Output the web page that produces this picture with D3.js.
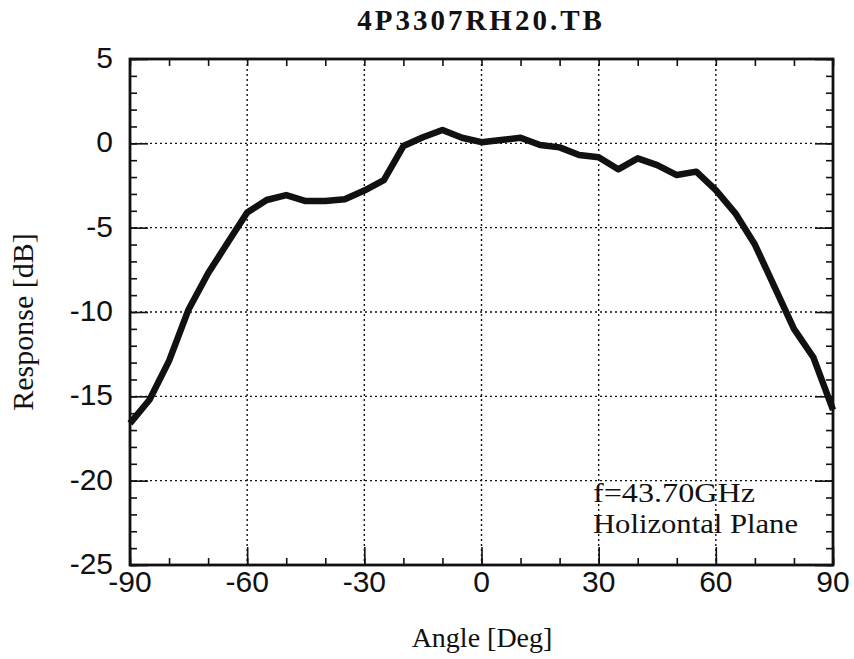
<!DOCTYPE html>
<html lang="en">

<head>
    <meta charset="utf-8">
    <title>4P3307RH20.TB</title>
    <script src="https://d3js.org/d3.v7.min.js"></script>
    <style>
        body {
            margin: 0;
            background: #fff;
        }

        .tick_label {
            font-family: "Liberation Sans", Arial, sans-serif;
            font-size: 30px;
            fill: #111;
        }

        .serif {
            font-family: "Liberation Serif", "Times New Roman", serif;
            fill: #111;
        }

        .grid {
            stroke: #111;
            stroke-width: 1.4;
            stroke-dasharray: 2, 3;
        }
    </style>
</head>

<body>
    <script type="text/javascript">

        //Consts
        const w = 854;
        const h = 659;
        const mLeft = 130, mRight = 833, mTop = 59, mBottom = 565;

        // data - response, every 5 degrees
        const angles = [-90, -85, -80, -75, -70, -65, -60, -55, -50, -45, -40, -35, -30, -25, -20, -15, -10, -5,
            0, 5, 10, 15, 20, 25, 30, 35, 40, 45, 50, 55, 60, 65, 70, 75, 80, 85, 90];
        const response = [-16.6, -15.2, -12.9, -9.85, -7.7, -5.9, -4.1, -3.36, -3.07, -3.42, -3.42, -3.32, -2.8, -2.18, -0.16, 0.36, 0.79, 0.33,
            0.07, 0.2, 0.33, -0.1, -0.24, -0.69, -0.83, -1.54, -0.89, -1.29, -1.88, -1.68, -2.77, -4.15, -6.0, -8.5, -11.0, -12.7, -15.8];

        const xTicks = [-90, -60, -30, 0, 30, 60, 90];
        const yTicks = [5, 0, -5, -10, -15, -20, -25];
        const xMinor = d3.range(-90, 91, 10);
        const yMinor = d3.range(-25, 6, 1);

        const data = angles.map((a, i) => ({ angle: a, db: response[i] }));

        //scales
        const xScale = d3.scaleLinear()
            .domain([-90, 90])
            .range([mLeft, mRight]);

        const yScale = d3.scaleLinear()
            .domain([-25, 5])
            .range([mBottom, mTop]);

        //SVG
        const svg = d3.select("body")
            .append("svg")
            .attr("width", w)
            .attr("height", h);

        //grid lines (dotted)
        svg.selectAll(".vgrid")
            .data(xTicks.slice(1, -1))
            .enter().append("line")
            .attr("class", "grid")
            .attr("x1", d => xScale(d)).attr("x2", d => xScale(d))
            .attr("y1", mTop).attr("y2", mBottom);

        svg.selectAll(".hgrid")
            .data(yTicks.slice(1, -1))
            .enter().append("line")
            .attr("class", "grid")
            .attr("x1", mLeft).attr("x2", mRight)
            .attr("y1", d => yScale(d)).attr("y2", d => yScale(d));

        //axes - ticks on all four sides, pointing inward
        const tickStyle = g => g.call(s => s.select(".domain").remove())
            .call(s => s.selectAll("line").attr("stroke", "#111").attr("stroke-width", 1.6));

        svg.append("g").attr("transform", "translate(0," + mBottom + ")")
            .call(d3.axisBottom(xScale).tickValues(xMinor).tickSize(-7).tickFormat(""))
            .call(tickStyle);
        svg.append("g").attr("transform", "translate(0," + mBottom + ")")
            .call(d3.axisBottom(xScale).tickValues(xTicks).tickSize(-18).tickFormat(""))
            .call(tickStyle);
        svg.append("g").attr("transform", "translate(0," + mTop + ")")
            .call(d3.axisTop(xScale).tickValues(xMinor).tickSize(-7).tickFormat(""))
            .call(tickStyle);

        svg.append("g").attr("transform", "translate(" + mLeft + ",0)")
            .call(d3.axisLeft(yScale).tickValues(yMinor).tickSize(-7).tickFormat(""))
            .call(tickStyle);
        svg.append("g").attr("transform", "translate(" + mLeft + ",0)")
            .call(d3.axisLeft(yScale).tickValues(yTicks).tickSize(-18).tickFormat(""))
            .call(tickStyle);
        svg.append("g").attr("transform", "translate(" + mRight + ",0)")
            .call(d3.axisRight(yScale).tickValues(yMinor).tickSize(-7).tickFormat(""))
            .call(tickStyle);
        svg.append("g").attr("transform", "translate(" + mRight + ",0)")
            .call(d3.axisRight(yScale).tickValues(yTicks).tickSize(-18).tickFormat(""))
            .call(tickStyle);

        //frame
        svg.append("rect")
            .attr("x", mLeft).attr("y", mTop)
            .attr("width", mRight - mLeft).attr("height", mBottom - mTop)
            .attr("fill", "none")
            .attr("stroke", "#111")
            .attr("stroke-width", 2.8);

        //tick labels
        svg.selectAll(".xlab")
            .data(xTicks)
            .enter().append("text")
            .attr("class", "tick_label")
            .attr("x", d => xScale(d))
            .attr("y", mBottom + 27)
            .attr("text-anchor", "middle")
            .text(d => d);

        svg.selectAll(".ylab")
            .data(yTicks)
            .enter().append("text")
            .attr("class", "tick_label")
            .attr("x", 113)
            .attr("y", d => yScale(d) + 9)
            .attr("text-anchor", "end")
            .text(d => d);

        //response line
        const line = d3.line()
            .x(d => xScale(d.angle))
            .y(d => yScale(d.db));

        svg.append("path")
            .attr("d", line(data))
            .attr("fill", "none")
            .attr("stroke", "#111")
            .attr("stroke-width", 6.5)
            .attr("stroke-linejoin", "round");

        //title
        svg.append("text")
            .attr("class", "serif")
            .attr("x", 481)
            .attr("y", 30)
            .attr("text-anchor", "middle")
            .attr("font-weight", "bold")
            .attr("font-size", 29)
            .attr("letter-spacing", 3)
            .text("4P3307RH20.TB");

        //annotation
        svg.append("text")
            .attr("class", "serif")
            .attr("x", 593).attr("y", 502)
            .attr("font-size", 27)
            .attr("textLength", 162)
            .attr("lengthAdjust", "spacingAndGlyphs")
            .text("f=43.70GHz");

        svg.append("text")
            .attr("class", "serif")
            .attr("x", 593).attr("y", 533)
            .attr("font-size", 27)
            .attr("textLength", 205)
            .attr("lengthAdjust", "spacingAndGlyphs")
            .text("Holizontal Plane");

        //x-axis label
        svg.append("text")
            .attr("class", "serif")
            .attr("x", 482)
            .attr("y", 647)
            .attr("text-anchor", "middle")
            .attr("font-size", 28)
            .text("Angle [Deg]");

        //y-axis label
        svg.append("text")
            .attr("class", "serif")
            .attr("text-anchor", "middle")
            .attr("font-size", 30)
            .attr("transform", "translate(33,322) rotate(-90)")
            .text("Response [dB]");

    </script>
</body>

</html>
